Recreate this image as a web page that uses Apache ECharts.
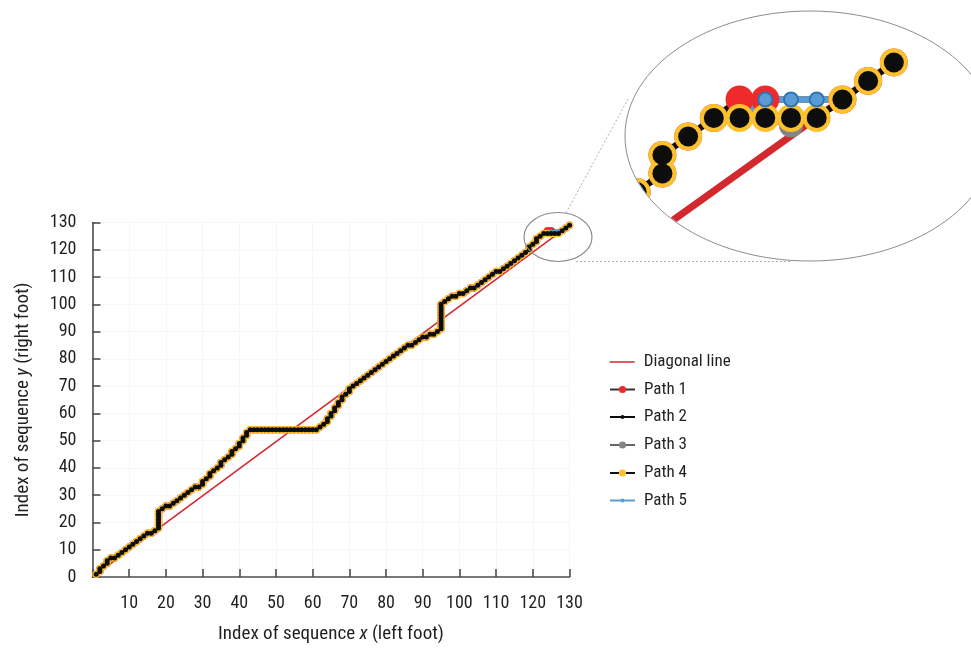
<!DOCTYPE html>
<html>
<head>
<meta charset="utf-8">
<script src="https://cdn.jsdelivr.net/npm/echarts@6/dist/echarts.min.js"></script>
<style>
  html, body { margin: 0; padding: 0; background: #fff; }
  #main { width: 971px; height: 652px; }
</style>
</head>
<body>
<div id="main"></div>
<script>
var chartDom = document.getElementById('main');
var myChart = echarts.init(chartDom);

const FONT = "'Liberation Sans Narrow', 'Roboto Condensed', 'Arial Narrow', Roboto, sans-serif";
const TEXT_COLOR = '#231f20';

// shared warping path, identical for all five paths up to (123,126)
const pathX = [
  1, 2, 2, 3, 4, 4, 5, 6, 7, 8, 9, 10, 11, 12, 13, 14, 15, 16, 17, 18,
  18, 18, 18, 18, 18, 18,
  19, 20, 21, 22, 23, 24, 25, 26, 27, 28, 29,
  30, 30, 31, 32, 32, 33, 34, 35, 35, 36, 37, 38, 38, 39, 40, 40, 41, 41, 42, 42, 43,
  44, 45, 46, 47, 48, 49, 50, 51, 52, 53, 54, 55, 56, 57, 58, 59, 60, 61,
  62, 63, 64, 64, 65, 65, 66, 66, 67, 67, 68, 68, 69, 70, 70, 71, 72,
  73, 74, 75, 76, 77, 78, 79, 80, 81, 82, 83, 84, 85, 86, 87, 88, 89, 90, 91, 92, 93, 94,
  95, 95, 95, 95, 95, 95, 95, 95, 95, 95,
  96, 97, 98, 99, 100, 101, 102, 103, 104, 105, 106, 107, 108, 109, 110, 111, 112, 113, 114, 115, 116, 117, 118, 119,
  119, 120, 121, 121, 122, 123,
];
const pathY = [
  1, 2, 3, 4, 5, 6, 7, 7, 8, 9, 10, 11, 12, 13, 14, 15, 16, 16, 17, 18,
  19, 20, 21, 22, 23, 24,
  25, 26, 26, 27, 28, 29, 30, 31, 32, 33, 33,
  34, 35, 36, 37, 38, 39, 40, 41, 42, 43, 44, 45, 46, 47, 48, 49, 50, 51, 52, 53, 54,
  54, 54, 54, 54, 54, 54, 54, 54, 54, 54, 54, 54, 54, 54, 54, 54, 54, 54,
  55, 56, 57, 58, 59, 60, 61, 62, 63, 64, 65, 66, 67, 68, 69, 70, 71,
  72, 73, 74, 75, 76, 77, 78, 79, 80, 81, 82, 83, 84, 85, 85, 86, 87, 88, 88, 89, 89, 90,
  91, 92, 93, 94, 95, 96, 97, 98, 99, 100,
  101, 102, 103, 103, 104, 104, 105, 106, 106, 107, 108, 109, 110, 111, 112, 112, 113, 114, 115, 116, 117, 118, 119, 120,
  121, 122, 123, 124, 125, 126,
];

// where the paths split (end of the sequences)
const tail1X = [124, 125, 128, 129, 130];
const tail1Y = [127, 127, 127, 128, 129];
const tail2X = [124, 125, 126, 127, 128, 129, 130];
const tail2Y = [126, 126, 126, 126, 127, 128, 129];
const tail3X = [124, 125, 126, 127, 128, 129, 130];
const tail3Y = [126, 126, 125.6, 126, 127, 128, 129];
const tail4X = [124, 125, 126, 127, 128, 129, 130];
const tail4Y = [126, 126, 126, 126, 127, 128, 129];
const tail5X = [124, 125, 126, 127, 128, 129, 130];
const tail5Y = [126, 127, 127, 127, 127, 128, 129];

const diagX = [1, 130];
const diagY = [1, 129];

function pts(xs, ys) {
  return xs.map((x, i) => [x, ys[i]]);
}

const diagData = pts(diagX, diagY);
const path1 = pts(pathX.concat(tail1X), pathY.concat(tail1Y));
const path2 = pts(pathX.concat(tail2X), pathY.concat(tail2Y));
const path3 = pts(pathX.concat(tail3X), pathY.concat(tail3Y));
const path4 = pts(pathX.concat(tail4X), pathY.concat(tail4Y));
const path5 = pts(pathX.concat(tail5X), pathY.concat(tail5Y));

// drawing order bottom -> top; sizes/widths are [main chart, magnified inset]
const looks = [
  { name: 'Diagonal line', data: diagData, symbol: 'none', line: '#d3282e', lw: [1.6, 7], size: [0, 0], fill: '#d3282e' },
  { name: 'Path 1', data: path1, line: '#111', lw: [2, 6], size: [7.5, 28], fill: '#ee2a2a' },
  { name: 'Path 3', data: path3, line: '#666', lw: [2, 6], size: [6, 24], fill: '#858585' },
  { name: 'Path 4', data: path4, line: '#111', lw: [2, 6], size: [7.5, 28], fill: '#fcc12c' },
  { name: 'Path 5', data: path5, line: '#5b9bd5', lw: [1.5, 6], size: [3, 14], fill: '#5b9bd5', border: '#2f74b5' },
  { name: 'Path 2', data: path2, line: '#0d0d0d', lw: [2.5, 6], size: [5, 20], fill: '#0d0d0d' },
];

const series = [];
[0, 1].forEach(function (g) {
  looks.forEach(function (s) {
    series.push({
      name: s.name,
      type: 'line',
      xAxisIndex: g,
      yAxisIndex: g,
      data: s.data,
      z: g === 0 ? 3 : 1,
      symbol: s.symbol || 'circle',
      symbolSize: s.size[g],
      showSymbol: s.symbol !== 'none',
      lineStyle: { color: s.line, width: s.lw[g] },
      itemStyle: {
        color: s.fill,
        borderColor: s.border || s.fill,
        borderWidth: s.border ? (g === 0 ? 0.5 : 2) : 0,
        opacity: 1,
      },
      emphasis: { disabled: true },
      silent: true,
    });
  });
});

// legend, one block per row so the dot sizes can differ
const legendRows = [
  { name: 'Diagonal line', y: 362, h: 8, itemStyle: { color: 'rgba(0,0,0,0)', borderWidth: 0 }, lineStyle: { color: '#d3282e', width: 1.5 } },
  { name: 'Path 1', y: 389.5, h: 9, itemStyle: { color: '#ee2a2a', borderWidth: 0 }, lineStyle: { color: '#333', width: 2 } },
  { name: 'Path 2', y: 417, h: 5, itemStyle: { color: '#0d0d0d', borderWidth: 0 }, lineStyle: { color: '#0d0d0d', width: 2 } },
  { name: 'Path 3', y: 445, h: 9, itemStyle: { color: '#858585', borderWidth: 0 }, lineStyle: { color: '#666', width: 2 } },
  { name: 'Path 4', y: 473, h: 9, itemStyle: { color: '#fcc12c', borderWidth: 0 }, lineStyle: { color: '#111', width: 2 } },
  { name: 'Path 5', y: 500.5, h: 5, itemStyle: { color: '#5b9bd5', borderWidth: 0 }, lineStyle: { color: '#5b9bd5', width: 2 } },
];

const legends = legendRows.map(function (r) {
  return {
    left: 609,
    top: r.y - 10,
    padding: 0,
    itemWidth: 25,
    itemHeight: r.h,
    selectedMode: false,
    textStyle: { fontFamily: FONT, fontSize: 17, color: TEXT_COLOR, lineHeight: 20, padding: [0, 0, 0, 4] },
    data: [{ name: r.name, itemStyle: r.itemStyle, lineStyle: r.lineStyle }],
  };
});

const axisLabelStyle = { fontFamily: FONT, fontSize: 18, color: TEXT_COLOR };

const option = {
  animation: false,
  backgroundColor: '#fff',
  textStyle: { fontFamily: FONT },
  legend: legends,
  grid: [
    { left: 92.5, right: 401.5, top: 222.5, bottom: 75 },
    { left: 625, top: 11, width: 370, height: 251 },
  ],
  xAxis: [
    {
      type: 'value',
      min: 0,
      max: 130,
      interval: 10,
      name: 'Index of sequence {i|x} (left foot)',
      nameLocation: 'middle',
      nameGap: 48,
      nameTextStyle: {
        fontFamily: FONT,
        fontSize: 19,
        color: TEXT_COLOR,
        rich: { i: { fontStyle: 'italic', fontFamily: FONT, fontSize: 19, color: TEXT_COLOR } },
      },
      axisLine: { show: true, onZero: false, lineStyle: { color: '#4d4d4d', width: 1.6 } },
      axisTick: { show: true, inside: true, length: 8, lineStyle: { color: '#4d4d4d', width: 1.6 } },
      axisLabel: Object.assign({ margin: 17, formatter: function (v) { return v === 0 ? '' : String(v); } }, axisLabelStyle),
      splitLine: { show: true, lineStyle: { color: '#f3f7fa', width: 1 } },
    },
    {
      type: 'value',
      gridIndex: 1,
      min: 119.545,
      max: 133.0,
      show: false,
      splitLine: { show: false },
    },
  ],
  yAxis: [
    {
      type: 'value',
      min: 0,
      max: 130,
      interval: 10,
      name: 'Index of sequence {i|y} (right foot)',
      nameLocation: 'middle',
      nameGap: 60,
      nameTextStyle: {
        fontFamily: FONT,
        fontSize: 19,
        color: TEXT_COLOR,
        rich: { i: { fontStyle: 'italic', fontFamily: FONT, fontSize: 19, color: TEXT_COLOR } },
      },
      axisLine: { show: true, onZero: false, lineStyle: { color: '#4d4d4d', width: 1.6 } },
      axisTick: { show: true, inside: true, length: 8, lineStyle: { color: '#4d4d4d', width: 1.6 } },
      axisLabel: Object.assign({ margin: 16 }, axisLabelStyle),
      splitLine: { show: true, lineStyle: { color: '#f3f7fa', width: 1 } },
    },
    {
      type: 'value',
      gridIndex: 1,
      min: 118.22,
      max: 131.78,
      show: false,
      splitLine: { show: false },
    },
  ],
  graphic: {
    elements: [
      // white band that trims the magnified view to its ellipse
      { type: 'ellipse', z: 2, silent: true, shape: { cx: 810, cy: 136, rx: 220, ry: 160 }, style: { fill: 'none', stroke: '#fff', lineWidth: 70 } },
      { type: 'ellipse', z: 5, silent: true, shape: { cx: 810, cy: 136, rx: 185, ry: 125 }, style: { fill: 'none', stroke: '#8c8c8c', lineWidth: 1 } },
      { type: 'ellipse', z: 5, silent: true, shape: { cx: 558, cy: 237, rx: 34, ry: 24.5 }, style: { fill: 'none', stroke: '#8c8c8c', lineWidth: 1.2 } },
      { type: 'line', z: 5, silent: true, shape: { x1: 566, y1: 213, x2: 628, y2: 99 }, style: { stroke: '#b0b0b0', lineWidth: 1, lineDash: [2, 2] } },
      { type: 'line', z: 5, silent: true, shape: { x1: 576, y1: 261.5, x2: 790, y2: 261.5 }, style: { stroke: '#b0b0b0', lineWidth: 1, lineDash: [2, 2] } },
    ],
  },
  series: series,
};

option && myChart.setOption(option);
</script>
</body>
</html>
